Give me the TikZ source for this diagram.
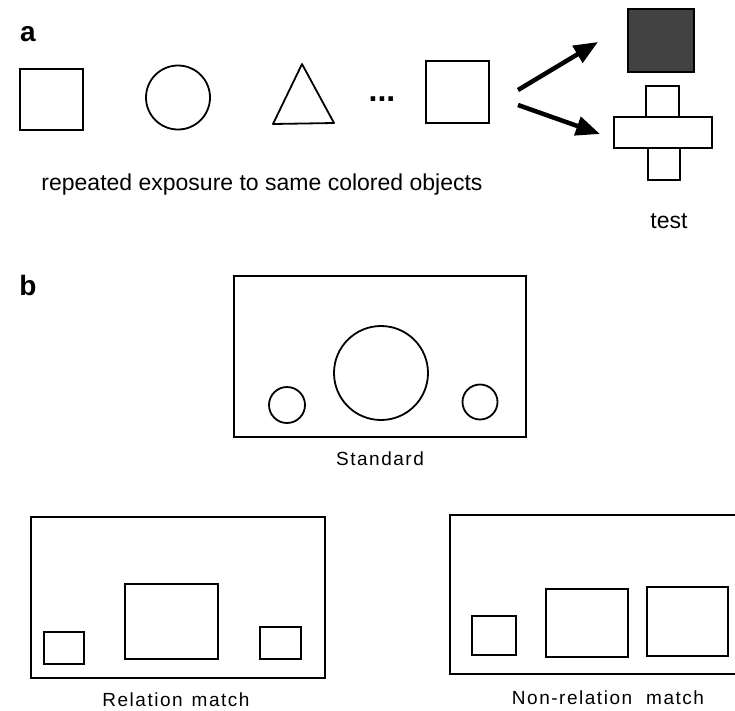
\documentclass[tikz,border=0pt]{standalone}
\usepackage{fontspec}
\setmainfont{Liberation Sans}
\newfontfamily\spacedfont[LetterSpace=8]{Liberation Sans}
\usetikzlibrary{arrows.meta}
\tikzset{
  shp/.style={draw, line width=1.8pt, inner sep=0pt, outer sep=0pt},
  boxr/.style={shp, rectangle},
  circ/.style={shp, circle},
  lbl/.style={inner sep=0pt, font=\fontsize{23}{26}\selectfont},
  slbl/.style={inner sep=0pt, font=\spacedfont\fontsize{19}{22}\selectfont},
  panel/.style={inner sep=0pt, font=\bfseries\fontsize{28}{32}\selectfont},
  bigarrow/.style={line width=4.5pt, -{Triangle[length=24pt,width=19pt]}}
}
\begin{document}
\begin{tikzpicture}[x=1pt,y=-1pt]
\useasboundingbox (0,0) rectangle (735,710);
% panel a
\node[panel] (la) at (28,34) {a};
\node[boxr, minimum width=63pt, minimum height=61pt] (s1) at (51.5,99.5) {};
\node[circ, minimum size=64pt] (c1) at (178,97.5) {};
\coordinate (t1) at (302,64);
\coordinate (t2) at (273,124);
\coordinate (t3) at (334,123);
\draw[line width=1.8pt, line join=round] (t1) -- (t2) -- (t3) -- cycle;
\node[inner sep=0pt, font=\bfseries\fontsize{32}{34}\selectfont] (dots) at (382,99) {...};
\node[boxr, minimum width=63pt, minimum height=62pt] (s4) at (457.5,92) {};
\node[lbl] (rep) at (262,185) {repeated exposure to same colored objects};
\coordinate (a1s) at (518,90);
\coordinate (a2s) at (518,105);
\node[boxr, fill=black!74, minimum width=66pt, minimum height=63pt] (dark) at (661,40.5) {};
\node[boxr, minimum width=33pt, minimum height=31pt] (cu) at (662.5,101.5) {};
\node[boxr, minimum width=32pt, minimum height=32pt] (cl) at (664,164) {};
\node[boxr, fill=white, minimum width=98pt, minimum height=31pt] (ch) at (663,132.5) {};
\coordinate (a1e) at (598,42);
\coordinate (a2e) at (600,134);
\draw[bigarrow] (a1s) -- (a1e);
\draw[bigarrow] (a2s) -- (a2e);
\node[lbl] (test) at (669,221) {test};
% panel b
\node[panel] (lb) at (28,285) {b};
\node[boxr, minimum width=292pt, minimum height=161pt] (std) at (380,356.5) {};
\node[circ, minimum size=94pt] (bc) at (381,373) {};
\node[circ, minimum size=36pt] (lc) at (287,405) {};
\node[circ, minimum size=35pt] (rc) at (480,402) {};
\node[slbl] (stdl) at (380,459) {Standard};
% relation match
\node[boxr, minimum width=294pt, minimum height=161pt] (rel) at (178,597.5) {};
\node[boxr, minimum width=40pt, minimum height=32pt] (rs1) at (64,648) {};
\node[boxr, minimum width=93pt, minimum height=75pt] (rb) at (171.5,621.5) {};
\node[boxr, minimum width=41pt, minimum height=32pt] (rs2) at (280.5,643) {};
\node[slbl] (rell) at (176,700) {Relation\hspace{9pt}match};
% non-relation match
\coordinate (n1) at (740,515);
\coordinate (n2) at (450,515);
\coordinate (n3) at (450,674);
\coordinate (n4) at (740,674);
\draw[line width=1.8pt] (n1) -- (n2) -- (n3) -- (n4);
\node[boxr, minimum width=44pt, minimum height=39pt] (ns) at (494,635.5) {};
\node[boxr, minimum width=82pt, minimum height=68pt] (nm) at (587,623) {};
\node[boxr, minimum width=81pt, minimum height=69pt] (nr) at (687.5,621.5) {};
\node[slbl] (nonl) at (608,698) {Non-relation\hspace{14pt}match};
\end{tikzpicture}
\end{document}
